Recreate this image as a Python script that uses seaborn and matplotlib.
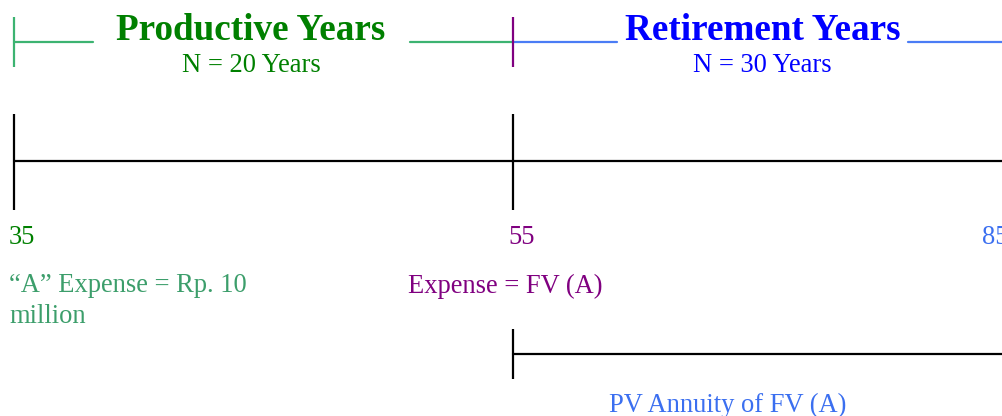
import matplotlib
matplotlib.use("Agg")
import matplotlib.pyplot as plt
import seaborn as sns
import pandas as pd
import numpy as np

# ---- data ----
ages = [35, 55, 85]
age_labels = ["35", "55", "85"]
age_colors = ["#008000", "#800080", "#3b6ff0"]
phase_titles = ["Productive Years", "Retirement Years"]
phase_years = [20, 30]
phase_subtitles = ["N = 20 Years", "N = 30 Years"]
phase_title_colors = ["#008000", "#0000ff"]
phase_line_colors = ["#3cb371", "#4a7cf5"]
start_note = ["\u201cA\u201d Expense = Rp. 10", "million"]
retire_note = "Expense = FV (A)"
annuity_note = "PV Annuity of FV (A)"

sns.set_theme(style="white")
plt.rcParams["font.family"] = ["Liberation Serif", "DejaVu Serif"]

W, H = 1003, 416
fig = plt.figure(figsize=(W / 100, H / 100), dpi=100)
ax = fig.add_axes([0, 0, 1, 1])
ppy = 499 / 20.0                      # pixels per year
x0 = ages[0] - 14 / ppy
ax.set_xlim(x0, x0 + W / ppy)
ax.set_ylim(H, 0)
ax.axis("off")

fs = 19.1
fs_title = 26.7
lw = 1.6

# ---- main timeline ----
tl = pd.DataFrame({"age": ages, "y": [161] * len(ages)})
sns.lineplot(data=tl, x="age", y="y", color="black", lw=lw, ax=ax)
ax.vlines(ages[:2], 114, 210, color="black", lw=lw)

# age labels
for a, lab, c in zip(ages[:2], age_labels[:2], age_colors[:2]):
    ax.text(a - 0.2, 244, lab, color=c, fontsize=fs, ha="left", va="baseline")
ax.text(x0 + 982 / ppy, 244, age_labels[2], color=age_colors[2], fontsize=fs,
        ha="left", va="baseline")

# ---- phase brackets ----
title_centers = [44.5, 65.0]
pads = [(23, 24), (8, 8)]
fig.canvas.draw()
renderer = fig.canvas.get_renderer()
inv = ax.transData.inverted()
starts = [ages[0], ages[1]]
for i, (st, n) in enumerate(zip(starts, phase_years)):
    t = ax.text(title_centers[i], 39.5, phase_titles[i], color=phase_title_colors[i],
                fontsize=fs_title, fontweight="bold", ha="center", va="baseline")
    ax.text(title_centers[i], 72.5, phase_subtitles[i], color=phase_title_colors[i],
            fontsize=fs, ha="center", va="baseline")
    bb = t.get_window_extent(renderer=renderer)
    xl = inv.transform((bb.x0, 0))[0] - pads[i][0] / ppy
    xr = inv.transform((bb.x1, 0))[0] + pads[i][1] / ppy
    seg = pd.DataFrame({"age": [st, xl, xr, st + n], "y": [42] * 4,
                        "part": ["a", "a", "b", "b"]})
    sns.lineplot(data=seg, x="age", y="y", units="part", estimator=None,
                 color=phase_line_colors[i], lw=lw, ax=ax)
ax.vlines([ages[0]], 17, 67, color=phase_line_colors[0], lw=lw)
ax.vlines([ages[1]], 17, 67, color="#800080", lw=lw)

# ---- notes ----
ax.text(ages[0] - 0.2, 292.5, start_note[0], color="#3c9e6b", fontsize=fs,
        ha="left", va="baseline")
ax.text(ages[0] - 0.2, 323, start_note[1], color="#3c9e6b", fontsize=fs,
        ha="left", va="baseline")
ax.text(ages[1] - 105 / ppy, 293, retire_note, color="#800080", fontsize=fs,
        ha="left", va="baseline")

# ---- annuity bracket ----
ann = pd.DataFrame({"age": [ages[1], ages[2]], "y": [354, 354]})
sns.lineplot(data=ann, x="age", y="y", color="black", lw=lw, ax=ax)
ax.vlines([ages[1]], 329, 379, color="black", lw=lw)
ax.text(ages[1] + 215 / ppy, 411.5, annuity_note, color="#3b6ff0", fontsize=fs,
        ha="center", va="baseline")

if ax.get_legend():
    ax.get_legend().remove()
fig.savefig("out.png", dpi=100)
